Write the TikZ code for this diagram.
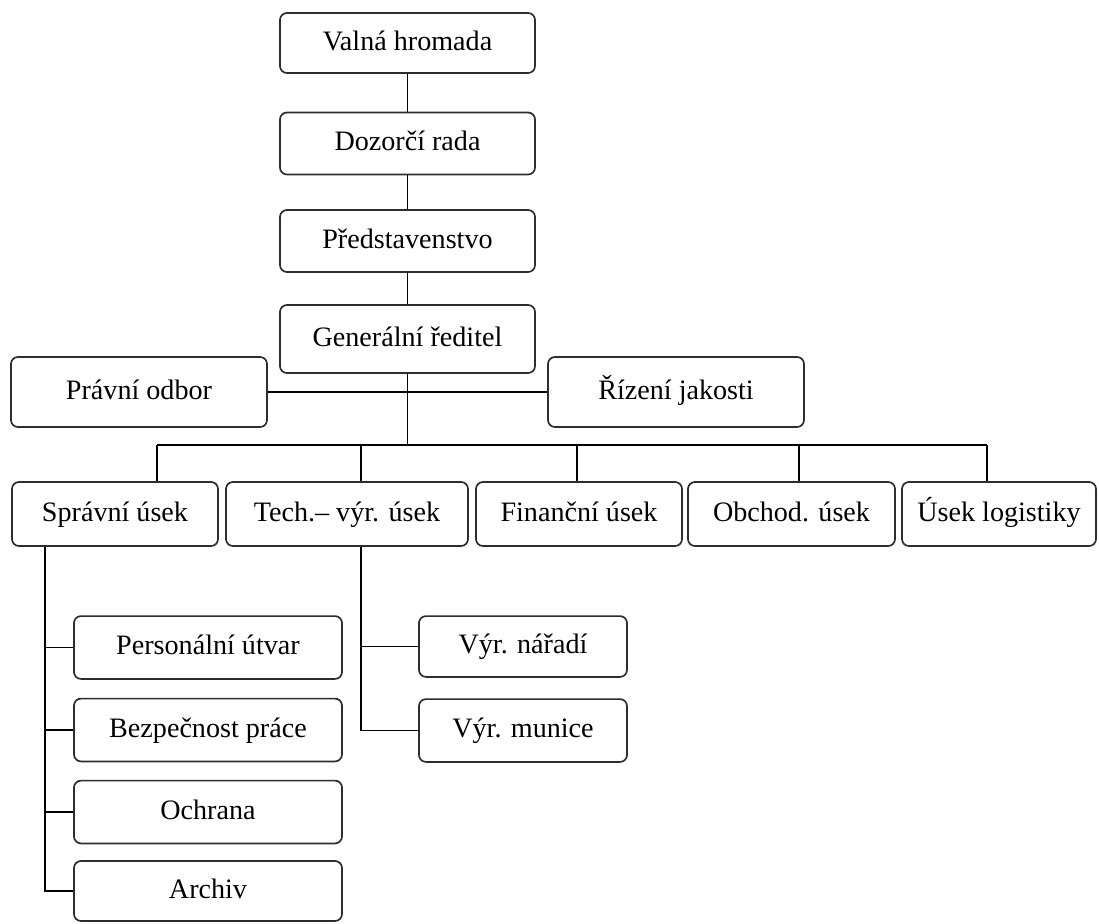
\documentclass[tikz,border=0pt]{standalone}
\usepackage{fontspec}
\setmainfont{Liberation Serif}
\usepackage{tikz}
\usetikzlibrary{positioning, calc}
\definecolor{boxline}{RGB}{45, 45, 45}

\begin{document}
\begin{tikzpicture}[
        x=0.025cm, y=-0.025cm,
        unit/.style={draw=boxline, line width=1.2pt, rounded corners=5pt, fill=white,
            minimum width=6.375cm, minimum height=1.55cm, inner sep=0pt,
            text height=14pt, text depth=4pt,
            font=\fontsize{20}{24}\selectfont},
        dept/.style={unit, minimum height=1.6cm},
        sub/.style={unit, minimum height=1.57cm},
        link/.style={draw=black, line width=1.4pt},
    ]
        \useasboundingbox (0,0) rectangle (1099,923);

        % Top of the hierarchy
        \node[unit, minimum height=1.5cm] (valna) at (407.5,43) {Valná hromada};
        \node[unit] (dozorci) at (407.5,143.5) {Dozorčí rada};
        \node[unit] (predst) at (407.5,241) {Představenstvo};
        \node[unit, minimum height=1.7cm] (gen) at (407.5,339) {Generální ředitel};
        \node[unit, minimum width=6.4cm, minimum height=1.75cm] (pravni) at (139,392) {Právní odbor};
        \node[unit, minimum width=6.4cm, minimum height=1.75cm] (rizeni) at (676,392) {Řízení jakosti};

        \draw[link] (valna) -- (dozorci);
        \draw[link] (dozorci) -- (predst);
        \draw[link] (predst) -- (gen);
        \draw[link] (pravni) -- (rizeni);

        % Departments
        \node[dept, minimum width=5.15cm] (spravni) at (115,514) {Správní úsek};
        \node[dept, minimum width=6.05cm] (tech) at (347,514) {Tech.– výr. úsek};
        \node[dept, minimum width=5.15cm] (financni) at (579,514) {Finanční úsek};
        \node[dept, minimum width=5.175cm] (obchod) at (791.5,514) {Obchod. úsek};
        \node[dept, minimum width=4.85cm] (logist) at (999,514) {Úsek logistiky};

        \coordinate (d1) at (157,445);
        \coordinate (d2) at (361,445);
        \coordinate (d3) at (577,445);
        \coordinate (d4) at (799,445);
        \coordinate (d5) at (987,445);
        \draw[link] (gen.south) -- (gen.south |- d1);
        \draw[link] (d1) -- (d5);
        \draw[link] (d1) -- (d1 |- spravni.north);
        \draw[link] (d2) -- (d2 |- tech.north);
        \draw[link] (d3) -- (d3 |- financni.north);
        \draw[link] (d4) -- (d4 |- obchod.north);
        \draw[link] (d5) -- (d5 |- logist.north);

        % Under Správní úsek
        \node[sub, minimum width=6.7cm] (personal) at (208,647.5) {Personální útvar};
        \node[sub, minimum width=6.7cm] (bezp) at (208,730) {Bezpečnost práce};
        \node[sub, minimum width=6.7cm] (ochrana) at (208,812) {Ochrana};
        \node[sub, minimum width=6.7cm, minimum height=1.5cm] (archiv) at (208,891) {Archiv};

        \coordinate (s1) at (45,0);
        \draw[link] (s1 |- spravni.south) -- (s1 |- archiv.west) -- (archiv.west);
        \foreach \n in {personal,bezp,ochrana}
            \draw[link] (s1 |- \n.west) -- (\n.west);

        % Under Tech.-výr. úsek
        \node[sub, minimum width=5.2cm, minimum height=1.52cm] (naradi) at (523,646.5) {Výr. nářadí};
        \node[sub, minimum width=5.2cm] (munice) at (523,730.5) {Výr. munice};

        \coordinate (s2) at (361,0);
        \draw[link] (s2 |- tech.south) -- (s2 |- munice.west) -- (munice.west);
        \draw[link] (s2 |- naradi.west) -- (naradi.west);
    \end{tikzpicture}
\end{document}
